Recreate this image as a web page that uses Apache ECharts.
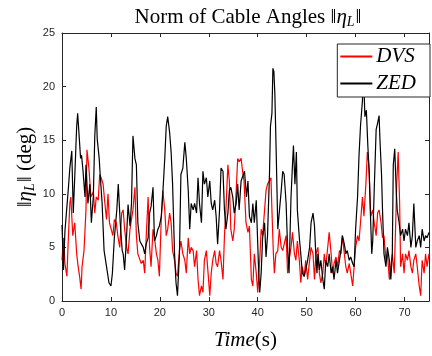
<!DOCTYPE html>
<html>
<head>
<meta charset="utf-8">
<script src="https://cdn.jsdelivr.net/npm/echarts@6/dist/echarts.min.js"></script>
<style>html,body{margin:0;padding:0;background:#fff}#c{width:432px;height:356px}</style>
</head>
<body>
<div id="c"></div>
<script>
const xTicks = [0, 10, 20, 30, 40, 50, 60, 70];
const yTicks = [0, 5, 10, 15, 20, 25];

const zedTime = [0,0.3,0.6,1.0,1.3,1.6,2.0,2.3,2.6,3.0,3.2,3.5,3.8,4.0,4.3,4.7,4.9,5.3,5.7,6.0,6.4,6.7,7.0,7.2,7.6,7.8,8.2,8.6,9.1,9.6,10.0,10.3,10.7,11.2,11.5,11.9,12.3,12.5,12.8,13.2,13.5,13.9,14.2,14.5,14.9,15.2,15.5,15.9,16.2,16.6,16.9,17.2,17.6,17.9,18.2,18.6,18.9,19.3,19.6,19.9,20.3,20.6,21.0,21.3,21.6,22.0,22.3,22.6,23.0,23.3,23.6,24.0,24.3,24.7,25.1,25.4,25.8,26.1,26.4,26.8,27.1,27.5,27.8,28.1,28.5,28.8,29.1,29.5,29.8,30.2,30.5,30.8,31.2,31.5,31.8,32.2,32.5,32.9,33.2,33.5,33.9,34.2,34.5,34.9,35.2,35.6,35.9,36.2,36.6,36.9,37.3,37.7,38.0,38.3,38.7,39.0,39.3,39.7,39.9,40.2,40.4,40.7,41.0,41.4,41.7,42.0,42.4,42.6,42.9,43.1,43.3,43.5,43.8,44.1,44.4,44.8,45.1,45.4,45.8,46.1,46.4,46.8,47.1,47.3,47.6,47.9,48.1,48.5,48.8,49.1,49.5,49.8,50.2,50.6,50.9,51.3,51.6,51.8,52.1,52.3,52.6,52.9,53.3,53.6,53.9,54.3,54.6,55.0,55.3,55.6,56.0,56.3,56.7,57.0,57.3,57.7,58.0,58.3,58.7,59.0,59.4,59.7,60.0,60.4,60.7,61.0,61.4,61.6,61.9,62.2,62.5,62.8,63.0,63.3,63.5,63.8,64.2,64.5,64.8,65.0,65.3,65.5,65.8,66.2,66.5,66.9,67.2,67.5,67.7,68.0,68.3,68.5,68.9,69.2,69.6,69.9,70.2,70.6,70.9,71.3,71.6,71.9,72.3,72.6,73.0,73.3,73.6,74.0,74.3,74.6,75.0];
const zedValues = [7.1,2.9,6.5,8.8,10.5,12.4,14.0,8.2,11.5,16.3,17.5,15.4,13.3,13.6,12.1,9.7,12.7,9.1,10.9,7.3,9.7,15.4,18.1,15.1,13.3,11.8,9.1,4.7,3.2,1.7,1.4,2.6,5.9,8.5,10.9,7.3,4.7,4.4,2.9,6.1,9.0,7.0,9.1,15.4,13.3,12.7,7.3,5.6,5.7,5.0,4.4,5.3,5.9,8.2,8.8,10.6,5.6,6.1,6.7,7.0,7.9,10.0,13.3,16.3,17.2,15.7,13.9,10.9,4.4,1.7,0.5,4.4,11.8,12.4,14.8,13.3,10.3,6.7,9.1,8.5,9.1,8.2,11.5,9.1,7.3,12.1,10.9,11.5,9.7,11.2,9.1,8.5,9.4,7.9,5.3,8.5,12.4,12.1,8.5,6.7,8.2,10.3,10.6,9.7,8.2,9.1,10.9,8.5,11.2,11.2,12.1,9.7,11.2,7.9,7.3,9.1,7.3,9.4,6.7,2.6,0.8,2.6,5.9,7.3,4.1,6.1,11.8,16.3,17.5,21.7,21.4,19.3,13.3,6.7,6.7,10.3,12.1,11.8,9.1,5.0,2.6,9.7,12.7,14.5,10.9,13.9,8.5,5.9,4.4,2.6,2.3,2.9,3.8,5.0,7.3,8.2,7.0,5.0,2.6,4.4,2.9,3.8,2.0,1.1,3.8,3.2,4.4,2.6,3.2,2.0,3.8,2.6,3.8,4.7,6.1,5.3,4.4,4.7,3.8,4.1,3.5,3.2,6.7,9.7,13.6,16.3,18.7,21.5,17.2,17.8,14.5,11.8,8.5,4.4,5.6,10.3,16.0,16.6,17.3,14.8,11.8,8.5,4.4,3.2,5.0,3.8,2.0,4.4,12.7,14.2,10.3,8.5,7.3,6.1,6.7,5.6,6.7,6.1,7.3,5.0,6.1,9.1,5.0,5.6,6.1,5.0,6.7,5.6,6.1,5.9,6.4];

const dvsTime = [0,0.3,0.6,1.0,1.3,1.6,1.8,2.2,2.6,3.0,3.3,3.6,3.9,4.1,4.5,4.9,5.1,5.5,5.9,6.4,6.7,7.0,7.4,7.7,8.0,8.4,8.7,9.1,9.4,9.7,10.0,10.4,10.7,11.1,11.4,11.8,12.2,12.5,12.8,13.2,13.5,13.9,14.2,14.5,14.9,15.2,15.5,15.9,16.2,16.6,16.9,17.2,17.6,17.9,18.2,18.6,18.9,19.3,19.6,19.9,20.3,20.6,21.0,21.3,21.6,22.0,22.3,22.6,23.0,23.3,23.6,24.0,24.3,24.7,25.1,25.4,25.8,26.1,26.4,26.8,27.1,27.5,27.8,28.1,28.5,28.8,29.1,29.5,29.8,30.2,30.5,30.8,31.2,31.5,31.8,32.2,32.5,32.9,33.2,33.5,33.9,34.2,34.5,34.9,35.2,35.6,35.9,36.2,36.6,36.9,37.2,37.6,38.0,38.3,38.7,39.0,39.3,39.7,40.0,40.4,40.7,41.0,41.4,41.7,42.0,42.4,42.7,42.9,43.2,43.4,43.7,44.1,44.4,44.8,45.1,45.4,45.8,46.1,46.4,46.8,47.1,47.5,47.8,48.1,48.5,48.8,49.1,49.5,49.8,50.2,50.6,50.9,51.3,51.6,51.9,52.3,52.6,52.9,53.3,53.6,53.9,54.3,54.6,55.0,55.3,55.6,56.0,56.3,56.7,57.0,57.3,57.7,58.0,58.3,58.7,59.0,59.4,59.7,60.0,60.4,60.7,61.0,61.4,61.7,62.1,62.4,62.7,63.1,63.5,63.8,64.2,64.5,64.8,65.2,65.5,65.8,66.2,66.5,66.9,67.2,67.5,67.9,68.2,68.4,68.7,69.0,69.2,69.6,69.9,70.2,70.6,70.9,71.3,71.6,71.9,72.3,72.6,73.0,73.3,73.6,74.0,74.3,74.6,75.0];
const dvsValues = [3.8,5.9,3.5,2.3,5.9,9.1,9.7,6.1,7.3,4.4,3.2,2.3,1.1,3.2,4.7,8.5,14.1,12.4,9.7,10.2,8.2,9.7,9.4,11.8,11.5,10.9,9.4,7.6,10.0,7.3,7.3,6.1,7.6,7.3,6.1,5.0,8.2,8.5,6.7,5.0,4.4,6.7,7.6,8.5,10.6,6.1,4.4,4.4,3.5,3.8,2.6,5.9,9.7,5.0,3.2,6.7,5.9,4.4,3.8,2.3,7.9,10.3,8.5,6.1,6.7,8.2,7.3,4.7,3.8,2.6,2.3,4.7,5.6,4.4,3.8,2.6,5.9,4.4,5.0,4.7,3.2,4.7,2.0,0.5,1.4,0.8,3.8,4.7,2.9,0.5,2.6,3.8,4.7,3.5,3.2,4.7,3.8,2.0,6.1,8.5,12.7,11.2,6.7,5.6,6.7,10.3,13.3,13.0,13.3,12.1,11.2,7.3,6.4,7.0,2.0,1.4,4.4,2.6,0.8,3.8,6.7,6.1,8.5,10.3,10.9,11.2,11.5,8.5,4.4,2.6,4.4,4.7,6.7,5.0,4.7,4.7,6.1,2.6,3.8,5.0,6.4,4.4,3.8,5.6,3.8,1.7,3.2,2.3,3.8,2.0,3.8,5.0,4.4,2.0,4.4,5.0,2.6,1.7,2.6,4.4,3.2,5.0,6.4,4.4,2.6,3.5,4.1,3.2,4.7,4.4,6.1,4.4,3.2,2.6,3.5,2.6,1.4,3.2,5.0,6.1,5.6,7.3,9.7,7.9,10.9,13.9,12.7,7.9,8.5,7.3,6.1,8.2,8.5,7.3,5.9,6.1,3.8,4.4,2.0,3.2,4.4,2.6,7.3,10.9,13.9,9.1,3.2,4.4,2.6,4.4,3.8,4.7,3.2,2.6,3.8,4.4,3.2,1.4,0.5,3.8,2.6,4.4,3.2,4.4];

const seriesNames = ['DVS', 'ZED'];
const seriesColors = ['#ff0000', '#000000'];

function pairs(t, v) { return t.map((x, i) => [x, v[i]]); }

const serif = 'Liberation Serif';
const sans = 'Liberation Sans';
const axisCol = '#262626';

const chart = echarts.init(document.getElementById('c'), null, {renderer: 'canvas'});

const mathRich = {
  n: {fontFamily: serif, fontSize: 21, fontWeight: 'normal', color: '#000'},
  e: {fontFamily: serif, fontSize: 21, fontStyle: 'italic', fontWeight: 'normal', color: '#000'},
  s: {fontFamily: serif, fontSize: 14, fontStyle: 'italic', fontWeight: 'normal', color: '#000', verticalAlign: 'bottom', padding: [9, 1, 0, 0]}
};

const baseX = {
  type: 'value', min: 0, max: 75, interval: 10,
  axisLine: {show: true, onZero: false, lineStyle: {color: axisCol, width: 1}},
  axisTick: {show: true, inside: true, length: 4, lineStyle: {color: axisCol}},
  splitLine: {show: false}
};
const baseY = {
  type: 'value', min: 0, max: 25, interval: 5,
  axisLine: {show: true, onZero: false, lineStyle: {color: axisCol, width: 1}},
  axisTick: {show: true, inside: true, length: 4, lineStyle: {color: axisCol}},
  splitLine: {show: false}
};

chart.setOption({
  animation: false,
  backgroundColor: '#fff',
  title: {
    text: '{n|Norm of Cable Angles ‖}{e|η}{s|L}{n|‖}',
    left: 243, textAlign: 'center', top: 1,
    textStyle: {fontWeight: 'normal', rich: mathRich}
  },
  legend: {
    data: seriesNames,
    orient: 'vertical',
    right: 2, top: 44,
    backgroundColor: '#fff',
    borderColor: '#262626', borderWidth: 1, borderRadius: 0,
    padding: [2, 14, 3, 3],
    itemWidth: 32, itemHeight: 2, itemGap: 6,
    icon: 'rect',
    textStyle: {fontFamily: serif, fontStyle: 'italic', fontSize: 21, color: '#000', padding: [0, 0, 0, -1]}
  },
  grid: {left: 62, right: 1, top: 33, bottom: 44},
  xAxis: [
    Object.assign({}, baseX, {
      position: 'bottom',
      axisLabel: {show: true, color: axisCol, fontFamily: sans, fontSize: 11, margin: 6,
        formatter: v => xTicks.includes(v) ? String(v) : ''},
      name: '{e|Time}{n|(s)}',
      nameLocation: 'middle', nameGap: 29, nameMoveOverlap: false,
      nameTextStyle: {rich: mathRich}
    }),
    Object.assign({}, baseX, {position: 'top', axisLabel: {show: false}})
  ],
  yAxis: [
    Object.assign({}, baseY, {
      position: 'left',
      axisLabel: {show: true, color: axisCol, fontFamily: sans, fontSize: 11, margin: 7,
        formatter: v => yTicks.includes(v) ? String(v) : ''},
      name: '{n|‖}{e|η}{s|L}{n|‖ (deg)}',
      nameLocation: 'middle', nameGap: 25, nameRotate: 90, nameMoveOverlap: false,
      nameTextStyle: {rich: mathRich}
    }),
    Object.assign({}, baseY, {position: 'right', axisLabel: {show: false}})
  ],
  series: [
    {name: seriesNames[0], type: 'line', data: pairs(dvsTime, dvsValues), showSymbol: false, symbol: 'none',
      lineStyle: {color: seriesColors[0], width: 1.2}, itemStyle: {color: seriesColors[0]}, z: 2},
    {name: seriesNames[1], type: 'line', data: pairs(zedTime, zedValues), showSymbol: false, symbol: 'none',
      lineStyle: {color: seriesColors[1], width: 1.2}, itemStyle: {color: seriesColors[1]}, z: 3}
  ]
});
</script>
</body>
</html>
